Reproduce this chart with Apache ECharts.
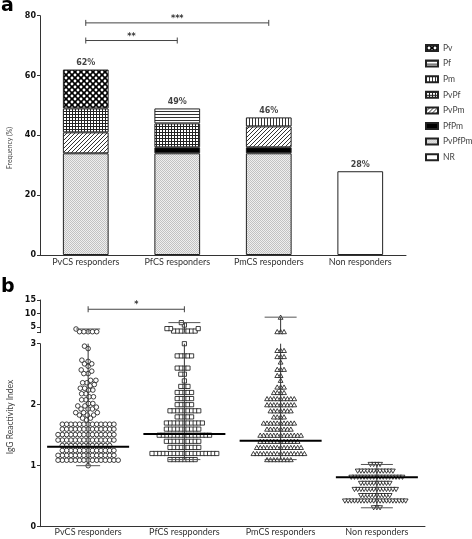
<!DOCTYPE html>
<html><head><meta charset="utf-8">
<script src="https://cdn.jsdelivr.net/npm/echarts@6/dist/echarts.min.js"></script>
<style>html,body{margin:0;padding:0;background:#fff}#c{width:472px;height:539px}</style>
</head><body><div id="c"></div>
<script>
// ================= Panel a data =================
const catsA = ['PvCS responders', 'PfCS responders', 'PmCS responders', 'Non responders'];
const legendOrder = ['Pv', 'Pf', 'Pm', 'PvPf', 'PvPm', 'PfPm', 'PvPfPm', 'NR'];
const stackOrder = ['PvPfPm', 'PfPm', 'PvPm', 'PvPf', 'Pm', 'Pf', 'Pv', 'NR'];
const sPvPfPm = [34, 34, 34, '-'];
const sPfPm   = ['-', 2, 2, '-'];
const sPvPm   = [7, '-', 7, '-'];
const sPvPf   = [8, 8, '-', '-'];
const sPm     = ['-', '-', 3, '-'];
const sPf     = ['-', 5, '-', '-'];
const sPv     = [13, '-', '-', '-'];
const sNR     = ['-', '-', '-', 28];
const totalsA = [62, 49, 46, 28];
const sigA = [{from: 0, to: 2, y: 77.6, label: '***'}, {from: 0, to: 1, y: 71.7, label: '**'}];

// ================= Panel b data =================
const catsB = ['PvCS responders', 'PfCS respponders', 'PmCS responders', 'Non responders'];
// [IgG reactivity index, number of subjects at that value]
const pvcsRows = [[4.36,1],[3.37,5],
  [2.96,1],[2.92,1],[2.73,1],[2.71,1],[2.67,2],[2.63,1],[2.57,1],[2.55,1],[2.51,2],[2.40,2],[2.36,2],
  [2.33,1],[2.31,1],[2.27,2],[2.24,2],[2.18,2],[2.13,2],[2.08,2],[2.02,2],[1.98,2],[1.96,1],[1.93,3],
  [1.87,3],[1.83,3],[1.78,2],[1.75,1],
  [1.68,13],[1.60,13],[1.51,14],[1.42,14],[1.33,12],[1.25,13],[1.17,14],[1.09,15],[1.00,1]];
const pfcsRows = [[6.7,1],[5.8,1],[4.5,3],[3.6,7],
  [3.0,1],[2.8,5],[2.6,4],[2.5,2],[2.39,1],[2.3,3],[2.2,5],[2.1,5],[2.0,5],[1.9,9],[1.8,5],[1.7,11],
  [1.6,10],[1.5,15],[1.4,10],[1.3,9],[1.2,19],[1.1,8]];
const pmcsRows = [[8.7,1],[3.4,3],
  [2.89,3],[2.79,3],[2.70,1],[2.58,3],[2.48,2],[2.40,1],[2.29,3],[2.2,4],[2.1,9],[2.0,9],[1.9,7],[1.8,4],
  [1.7,10],[1.6,8],[1.5,13],[1.4,12],[1.3,14],[1.2,16],[1.1,8]];
const nrRows = [[1.02,4],[0.91,12],[0.81,17],[0.71,10],[0.61,14],[0.51,10],[0.42,20],[0.31,3]];
const medB = [1.31, 1.52, 1.41, 0.81];
const minB = [1.00, 1.10, 1.10, 0.31];
const maxB = [4.36, 6.7, 8.7, 1.02];
const sigB = [{from: 0, to: 1, y: 11.6, label: '*'}];
const BREAK = 3;

// ================= styles =================
const FONT_CAT = 'Lato';
const FONT_TICK = 'DejaVu Sans';
const groupStyle = [
  {symbol: 'circle', size: 4.6, dx: 4.3, dy: 4.6, rot: 0},
  {symbol: 'rect', size: 4.2, dx: 3.6, dy: 4.6, rot: 0},
  {symbol: 'triangle', size: [4.8, 4.2], dx: 3.4, dy: 4.6, rot: 0},
  {symbol: 'triangle', size: [4.8, 4.2], dx: 3.2, dy: 4.6, rot: 180}
];
const CAP_HALF = [12, 16, 16, 16];
const MED_HALF = 41;

function pattern(type) {
  const c = document.createElement('canvas');
  let ctx;
  if (type === 'Pv') {
    c.width = c.height = 6; ctx = c.getContext('2d');
    ctx.fillStyle = '#000'; ctx.fillRect(0, 0, 6, 6); ctx.fillStyle = '#fff';
    [[3,3],[0,0],[6,0],[0,6],[6,6]].forEach(([x,y]) => { ctx.beginPath(); ctx.arc(x, y, 1.45, 0, Math.PI*2); ctx.fill(); });
  } else if (type === 'Pf') {
    c.width = 4; c.height = 3; ctx = c.getContext('2d');
    ctx.fillStyle = '#fff'; ctx.fillRect(0,0,4,3); ctx.fillStyle = '#333'; ctx.fillRect(0,0,4,1);
  } else if (type === 'Pm') {
    c.width = 3; c.height = 4; ctx = c.getContext('2d');
    ctx.fillStyle = '#fff'; ctx.fillRect(0,0,3,4); ctx.fillStyle = '#333'; ctx.fillRect(0,0,1,4);
  } else if (type === 'PvPf') {
    c.width = 3; c.height = 3; ctx = c.getContext('2d');
    ctx.fillStyle = '#fff'; ctx.fillRect(0,0,3,3); ctx.fillStyle = '#222'; ctx.fillRect(0,0,3,1); ctx.fillRect(0,0,1,3);
  } else if (type === 'PvPm') {
    c.width = 4; c.height = 4; ctx = c.getContext('2d');
    ctx.fillStyle = '#fff'; ctx.fillRect(0,0,4,4); ctx.strokeStyle = '#333'; ctx.lineWidth = 1;
    ctx.beginPath(); ctx.moveTo(0,4); ctx.lineTo(4,0); ctx.moveTo(-1,1); ctx.lineTo(1,-1); ctx.moveTo(3,5); ctx.lineTo(5,3); ctx.stroke();
  } else if (type === 'PvPfPm') {
    c.width = 2; c.height = 2; ctx = c.getContext('2d');
    ctx.fillStyle = '#efefef'; ctx.fillRect(0,0,2,2);
    ctx.fillStyle = '#c2c2c2'; ctx.fillRect(0,0,1,1); ctx.fillRect(1,1,1,1);
  } else if (type === 'PfPm') {
    return '#000';
  } else {
    return '#fff';
  }
  return {image: c, repeat: 'repeat'};
}

const seriesData = {PvPfPm: sPvPfPm, PfPm: sPfPm, PvPm: sPvPm, PvPf: sPvPf, Pm: sPm, Pf: sPf, Pv: sPv, NR: sNR};

const chart = echarts.init(document.getElementById('c'));

function bracketRender(sig) {
  return function (params, api) {
    const d = sig[params.dataIndex];
    const p1 = api.coord([d.from, d.y]);
    const p2 = api.coord([d.to, d.y]);
    const st = {stroke: '#444', lineWidth: 1};
    return {type: 'group', children: [
      {type: 'line', shape: {x1: p1[0], y1: p1[1], x2: p2[0], y2: p2[1]}, style: st},
      {type: 'line', shape: {x1: p1[0], y1: p1[1] - 3, x2: p1[0], y2: p1[1] + 3}, style: st},
      {type: 'line', shape: {x1: p2[0], y1: p2[1] - 3, x2: p2[0], y2: p2[1] + 3}, style: st},
      {type: 'text', x: (p1[0] + p2[0]) / 2, y: p1[1] - 4,
        style: {text: d.label, textAlign: 'center', textVerticalAlign: 'middle', fill: '#333', font: 'bold 8px DejaVu Sans'}}
    ]};
  };
}

const tickLabel = {fontFamily: FONT_TICK, fontWeight: 'bold', fontSize: 8, color: '#111'};
const axisLineStyle = {lineStyle: {color: '#333', width: 1}};

const groupsRows = [pvcsRows, pfcsRows, pmcsRows, nrRows];

function scatterSeries(gi, upper, data) {
  const g = groupStyle[gi];
  return {
    id: 'sc' + gi + (upper ? 'u' : 'l'), type: 'scatter',
    xAxisIndex: upper ? 1 : 2, yAxisIndex: upper ? 1 : 2,
    symbol: g.symbol, symbolSize: g.size, symbolRotate: g.rot,
    itemStyle: {color: '#fff', borderColor: '#111', borderWidth: 0.8, opacity: 1},
    z: 3, silent: true, animation: false,
    data: data
  };
}

function baseScatter() {
  const out = [];
  groupsRows.forEach((rows, gi) => {
    const up = [], lo = [];
    rows.forEach(([v, n]) => { for (let k = 0; k < n; k++) (v > BREAK ? up : lo).push([gi, v]); });
    out.push(scatterSeries(gi, true, up), scatterSeries(gi, false, lo));
  });
  return out;
}

const option = {
  animation: false,
  backgroundColor: '#fff',
  grid: [
    {left: 40, top: 15.7, width: 366, height: 239.3},
    {left: 40, top: 300, width: 385, height: 32.7},
    {left: 40, top: 343.7, width: 385, height: 183}
  ],
  legend: {
    data: legendOrder, orient: 'vertical', left: 420, top: 38, icon: 'rect',
    itemWidth: 12, itemHeight: 6, itemGap: 5.6, selectedMode: false,
    textStyle: {fontFamily: FONT_CAT, fontSize: 8.5, color: '#444', lineHeight: 10}
  },
  xAxis: [
    {type: 'category', gridIndex: 0, data: catsA, axisTick: {show: false}, axisLine: axisLineStyle,
      axisLabel: {fontFamily: FONT_CAT, fontSize: 9, color: '#333', margin: 3}},
    {type: 'category', gridIndex: 1, data: catsB, show: false},
    {type: 'category', gridIndex: 2, data: catsB, axisTick: {show: false}, axisLine: axisLineStyle,
      axisLabel: {fontFamily: FONT_CAT, fontSize: 9, color: '#333', margin: 1}}
  ],
  yAxis: [
    {type: 'value', gridIndex: 0, min: 0, max: 80, interval: 20, splitLine: {show: false},
      axisLine: {show: true, lineStyle: {color: '#333'}}, axisTick: {show: true, length: 3, lineStyle: {color: '#333'}},
      axisLabel: Object.assign({margin: 4}, tickLabel)},
    {type: 'value', gridIndex: 1, min: 3, max: 15, splitLine: {show: false},
      axisLine: {show: true, lineStyle: {color: '#333'}},
      axisTick: {show: true, length: 3, customValues: [3, 5, 10, 15], lineStyle: {color: '#333'}},
      axisLabel: Object.assign({margin: 4, customValues: [5, 10, 15]}, tickLabel)},
    {type: 'value', gridIndex: 2, min: 0, max: 3, interval: 1, splitLine: {show: false},
      axisLine: {show: true, lineStyle: {color: '#333'}}, axisTick: {show: true, length: 3, lineStyle: {color: '#333'}},
      axisLabel: Object.assign({margin: 4}, tickLabel)}
  ],
  graphic: [
    {type: 'text', left: 1, top: -3, style: {text: 'a', font: 'bold 19px DejaVu Sans', fill: '#000'}},
    {type: 'text', left: 1, top: 278, style: {text: 'b', font: 'bold 19px DejaVu Sans', fill: '#000'}},
    {type: 'text', x: 10, y: 148, rotation: Math.PI / 2,
      style: {text: 'Frequency (%)', font: '6.8px Lato', fill: '#444', textAlign: 'center', textVerticalAlign: 'middle'}},
    {type: 'text', x: 10, y: 417, rotation: Math.PI / 2,
      style: {text: 'IgG Reactivity Index', font: '8.5px Lato', fill: '#444', textAlign: 'center', textVerticalAlign: 'middle'}}
  ],
  series: []
};

stackOrder.forEach(name => {
  option.series.push({
    name: name, type: 'bar', stack: 'a', xAxisIndex: 0, yAxisIndex: 0, barWidth: '50%',
    data: seriesData[name],
    itemStyle: {color: pattern(name), borderColor: '#222', borderWidth: 1},
    emphasis: {disabled: true}
  });
});
option.series.push({
  type: 'scatter', xAxisIndex: 0, yAxisIndex: 0, symbolSize: 1, itemStyle: {color: 'rgba(0,0,0,0)'},
  data: totalsA.map((t, i) => [i, t]),
  label: {show: true, position: 'top', distance: 2, formatter: p => p.value[1] + '%',
    fontFamily: FONT_TICK, fontWeight: 'bold', fontSize: 8, color: '#111'}
});
option.series.push({
  type: 'custom', xAxisIndex: 0, yAxisIndex: 0, clip: false, silent: true,
  data: sigA.map(d => [d.from, d.y]), renderItem: bracketRender(sigA)
});
option.series.push({
  type: 'custom', xAxisIndex: 1, yAxisIndex: 1, clip: false, silent: true, z: 5,
  data: sigB.map(d => [d.from, d.y]), renderItem: bracketRender(sigB)
});
// summary lines, lower segment
option.series.push({
  type: 'custom', xAxisIndex: 2, yAxisIndex: 2, clip: false, silent: true, z: 6,
  data: catsB.map((c, i) => [i, medB[i]]),
  renderItem: function (params, api) {
    const i = params.dataIndex;
    const pMin = api.coord([i, minB[i]]);
    const pTop = api.coord([i, Math.min(maxB[i], BREAK)]);
    const pMed = api.coord([i, medB[i]]);
    const thin = {stroke: '#333', lineWidth: 1};
    const ch = [
      {type: 'line', shape: {x1: pMin[0], y1: pMin[1], x2: pTop[0], y2: pTop[1]}, style: thin},
      {type: 'line', shape: {x1: pMin[0] - CAP_HALF[i], y1: pMin[1], x2: pMin[0] + CAP_HALF[i], y2: pMin[1]}, style: {stroke: '#555', lineWidth: 1}},
      {type: 'line', shape: {x1: pMed[0] - MED_HALF, y1: pMed[1], x2: pMed[0] + MED_HALF, y2: pMed[1]}, style: {stroke: '#000', lineWidth: 2}}
    ];
    if (maxB[i] <= BREAK) ch.push({type: 'line', shape: {x1: pTop[0] - CAP_HALF[i], y1: pTop[1], x2: pTop[0] + CAP_HALF[i], y2: pTop[1]}, style: {stroke: '#555', lineWidth: 1}});
    return {type: 'group', children: ch};
  }
});
// summary lines, upper segment
option.series.push({
  type: 'custom', xAxisIndex: 1, yAxisIndex: 1, clip: false, silent: true, z: 6,
  data: catsB.map((c, i) => [i, maxB[i]]),
  renderItem: function (params, api) {
    const i = params.dataIndex;
    if (maxB[i] <= BREAK) return {type: 'group', children: []};
    const pB = api.coord([i, BREAK]);
    const pT = api.coord([i, maxB[i]]);
    return {type: 'group', children: [
      {type: 'line', shape: {x1: pB[0], y1: pB[1], x2: pT[0], y2: pT[1]}, style: {stroke: '#333', lineWidth: 1}},
      {type: 'line', shape: {x1: pT[0] - CAP_HALF[i], y1: pT[1], x2: pT[0] + CAP_HALF[i], y2: pT[1]}, style: {stroke: '#555', lineWidth: 1}}
    ]};
  }
});
option.series = option.series.concat(baseScatter());
chart.setOption(option);

// ---- beeswarm layout of the dot plots (horizontal pixel offsets only) ----
function swarm(points, Dx, Dy) {
  const placed = [];
  points.sort((a, b) => b.py - a.py);
  points.forEach(p => {
    const iv = [];
    placed.forEach(q => {
      const t = (p.py - q.py) / Dy;
      if (Math.abs(t) < 1) { const w = Dx * Math.sqrt(1 - t * t); iv.push([q.x - w, q.x + w]); }
    });
    const cands = [0];
    iv.forEach(r => cands.push(r[0], r[1]));
    cands.sort((a, b) => Math.abs(a) - Math.abs(b));
    for (const c of cands) {
      if (iv.every(r => c <= r[0] + 1e-6 || c >= r[1] - 1e-6)) { p.x = c; break; }
    }
    placed.push(p);
  });
}
const upd = [];
groupsRows.forEach((rows, gi) => {
  const pts = [];
  rows.forEach(([v, n]) => {
    for (let k = 0; k < n; k++) {
      const upper = v > BREAK;
      const px = chart.convertToPixel({xAxisIndex: upper ? 1 : 2, yAxisIndex: upper ? 1 : 2}, [gi, v]);
      pts.push({v: v, upper: upper, py: px[1], x: 0});
    }
  });
  swarm(pts, groupStyle[gi].dx, groupStyle[gi].dy);
  const up = [], lo = [];
  pts.forEach(p => (p.upper ? up : lo).push({value: [gi, p.v], symbolOffset: [p.x, 0]}));
  upd.push({id: 'sc' + gi + 'u', data: up}, {id: 'sc' + gi + 'l', data: lo});
});
chart.setOption({series: upd});
</script>
</body></html>
